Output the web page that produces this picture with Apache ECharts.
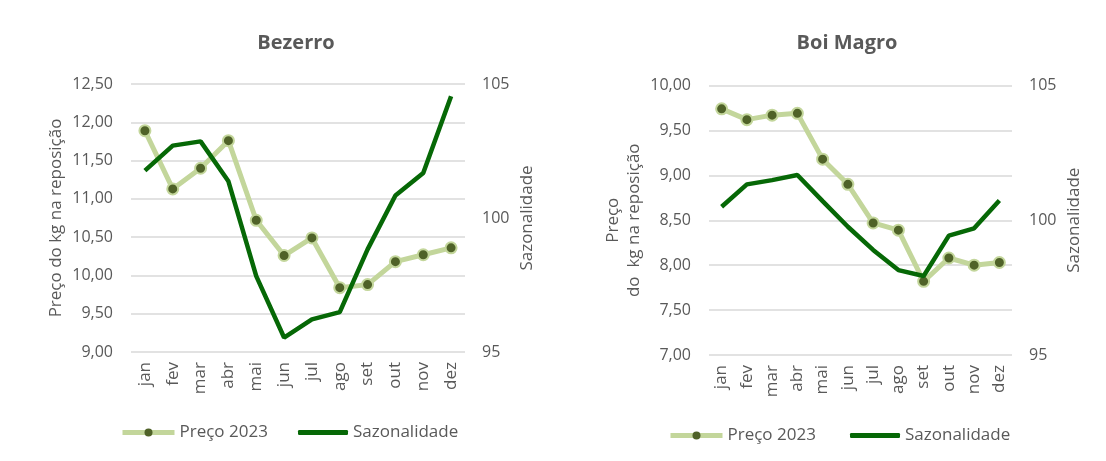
<!DOCTYPE html>
<html>
<head>
<meta charset="utf-8">
<script src="https://cdn.jsdelivr.net/npm/echarts@6/dist/echarts.min.js"></script>
<style>
html,body{margin:0;padding:0;background:#fff;}
#c{width:1106px;height:461px;}
</style>
</head>
<body>
<div id="c"></div>
<script>
const months = ['jan','fev','mar','abr','mai','jun','jul','ago','set','out','nov','dez'];
const bezerroPreco = [11.89, 11.13, 11.40, 11.76, 10.72, 10.26, 10.49, 9.84, 9.88, 10.18, 10.27, 10.36];
const bezerroSazon = [101.77, 102.70, 102.86, 101.37, 97.83, 95.54, 96.22, 96.49, 98.83, 100.84, 101.68, 104.54];
const boiPreco = [9.74, 9.62, 9.67, 9.69, 9.18, 8.90, 8.47, 8.39, 7.82, 8.08, 8.00, 8.03];
const boiSazon = [100.50, 101.33, 101.49, 101.68, 100.71, 99.76, 98.90, 98.15, 97.93, 99.43, 99.70, 100.73];
const titles = ['Bezerro', 'Boi Magro'];
const seriesNames = ['Preço 2023', 'Sazonalidade'];

const FONT = '"Open Sans", "DejaVu Sans", sans-serif';
const TXT = '#595959';
const LIGHT = '#c3d69b';
const DARK = '#4f6228';
const GREEN = '#066806';

const chart = echarts.init(document.getElementById('c'), null, {renderer: 'canvas'});

const grids = [
  {left: 131, right: 641, top: 84, bottom: 109},
  {left: 709, right: 94, top: 85.5, bottom: 106}
];

function yLeft(gi, min, max, name, gap) {
  return {
    type: 'value', gridIndex: gi, position: 'left', min: min, max: max, interval: 0.5,
    name: name, nameLocation: 'middle', nameGap: gap, nameRotate: 90,
    nameTextStyle: {color: TXT, fontFamily: FONT, fontSize: 17, lineHeight: 21},
    axisLine: {show: false}, axisTick: {show: false},
    axisLabel: {color: TXT, fontFamily: FONT, fontSize: 16, margin: 18,
      formatter: v => v.toFixed(2).replace('.', ',')},
    splitLine: {show: true, lineStyle: {color: '#d9d9d9', width: 1.5}}
  };
}
function yRight(gi) {
  return {
    type: 'value', gridIndex: gi, position: 'right', min: 95, max: 105, interval: 5,
    name: 'Sazonalidade', nameLocation: 'middle', nameGap: 54, nameRotate: 90,
    nameTextStyle: {color: TXT, fontFamily: FONT, fontSize: 17},
    axisLine: {show: false}, axisTick: {show: false},
    axisLabel: {color: TXT, fontFamily: FONT, fontSize: 16, margin: 17},
    splitLine: {show: false}
  };
}
function xAx(gi) {
  return {
    type: 'category', gridIndex: gi, data: months, boundaryGap: true,
    axisLine: {show: false}, axisTick: {show: false},
    axisLabel: {color: TXT, fontFamily: FONT, fontSize: 17, rotate: 90, margin: 10, interval: 0}
  };
}
function precoSeries(gi, data) {
  return {
    name: seriesNames[0], type: 'line', xAxisIndex: gi, yAxisIndex: gi * 2, data: data,
    symbol: 'circle', symbolSize: 11,
    lineStyle: {color: LIGHT, width: 5},
    itemStyle: {color: DARK, borderColor: LIGHT, borderWidth: 2},
    z: 3
  };
}
function sazSeries(gi, data) {
  return {
    name: seriesNames[1], type: 'line', xAxisIndex: gi, yAxisIndex: gi * 2 + 1, data: data,
    symbol: 'none', lineStyle: {color: GREEN, width: 4.5}, itemStyle: {color: GREEN},
    z: 4
  };
}
const legendText = {color: TXT, fontFamily: FONT, fontSize: 17};
function legendPreco(left, top) {
  return {left: left, top: top, itemWidth: 52, itemHeight: 10,
    lineStyle: {width: 5, color: LIGHT},
    itemStyle: {color: DARK, borderWidth: 0},
    textStyle: legendText, data: [seriesNames[0]]};
}
function legendSaz(left, top) {
  return {left: left, top: top, itemWidth: 50, itemHeight: 5,
    textStyle: legendText, data: [{name: seriesNames[1], icon: 'roundRect'}]};
}

chart.setOption({
  animation: false,
  backgroundColor: '#fff',
  title: [
    {text: titles[0], left: 291, top: 28, textAlign: 'center',
     textStyle: {color: TXT, fontFamily: FONT, fontSize: 20, fontWeight: 'bold'}},
    {text: titles[1], left: 842, top: 28, textAlign: 'center',
     textStyle: {color: TXT, fontFamily: FONT, fontSize: 20, fontWeight: 'bold'}}
  ],
  grid: grids,
  xAxis: [xAx(0), xAx(1)],
  yAxis: [
    yLeft(0, 9, 12.5, 'Preço do kg na reposição', 64),
    yRight(0),
    yLeft(1, 7, 10, 'Preço\ndo  kg na reposição', 64),
    yRight(1)
  ],
  legend: [
    legendPreco(115, 419), legendSaz(293, 419),
    legendPreco(663, 422), legendSaz(845, 422)
  ],
  series: [
    precoSeries(0, bezerroPreco), sazSeries(0, bezerroSazon),
    precoSeries(1, boiPreco), sazSeries(1, boiSazon)
  ]
});
</script>
</body>
</html>
